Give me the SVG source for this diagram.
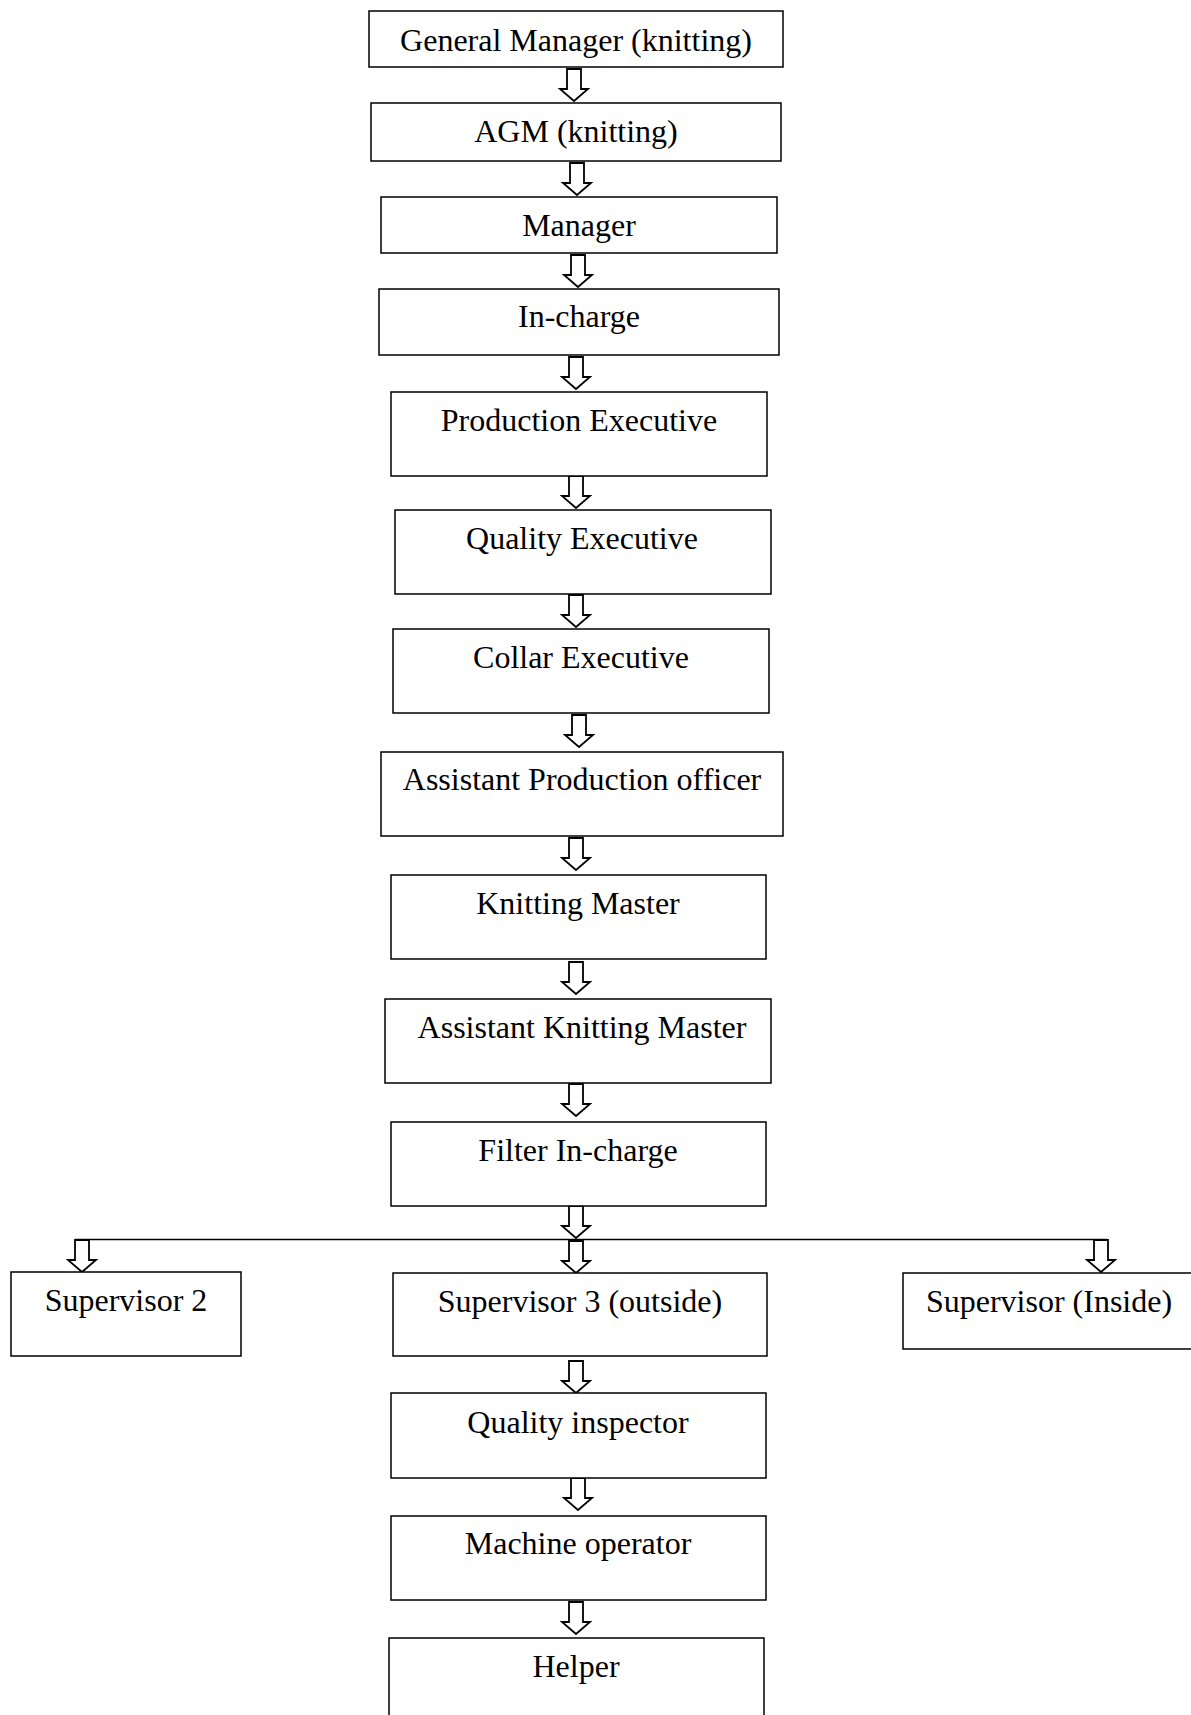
<svg xmlns="http://www.w3.org/2000/svg" xmlns:xlink="http://www.w3.org/1999/xlink" width="1191" height="1715" viewBox="0 0 1191 1715">
<style>
  .box { fill: #ffffff; stroke: #000000; stroke-width: 1.5; }
  .lbl { font-family: "Liberation Serif", "Times New Roman", serif; font-size: 32px; fill: #000000; text-anchor: middle; }
  .arr { fill: #ffffff; stroke: #000000; stroke-width: 1.8; stroke-linejoin: miter; }
  .ln { fill: none; stroke: #000000; stroke-width: 1.5; }
</style>
<defs>
  <path id="darrow" d="M-7,0 L7,0 L7,20 L14,20 L0,32 L-14,20 L-7,20 Z"/>
</defs>
<rect width="1191" height="1715" fill="#ffffff"/>

<g id="connectors">
  <line class="ln" x1="75" y1="1239.5" x2="1107" y2="1239.5"/>
  <use xlink:href="#darrow" class="arr" transform="translate(574,69)"/>
  <use xlink:href="#darrow" class="arr" transform="translate(577,163)"/>
  <use xlink:href="#darrow" class="arr" transform="translate(578,255)"/>
  <use xlink:href="#darrow" class="arr" transform="translate(576,357)"/>
  <use xlink:href="#darrow" class="arr" transform="translate(576,476)"/>
  <use xlink:href="#darrow" class="arr" transform="translate(576,595)"/>
  <use xlink:href="#darrow" class="arr" transform="translate(579,715)"/>
  <use xlink:href="#darrow" class="arr" transform="translate(576,838)"/>
  <use xlink:href="#darrow" class="arr" transform="translate(576,962)"/>
  <use xlink:href="#darrow" class="arr" transform="translate(576,1084)"/>
  <use xlink:href="#darrow" class="arr" transform="translate(576,1206)"/>
  <use xlink:href="#darrow" class="arr" transform="translate(82,1240)"/>
  <use xlink:href="#darrow" class="arr" transform="translate(576,1241)"/>
  <use xlink:href="#darrow" class="arr" transform="translate(1101,1240)"/>
  <use xlink:href="#darrow" class="arr" transform="translate(576,1361)"/>
  <use xlink:href="#darrow" class="arr" transform="translate(578,1478)"/>
  <use xlink:href="#darrow" class="arr" transform="translate(576,1602)"/>
</g>

<g id="n-general-manager">
  <rect class="box" x="369" y="11" width="414" height="56"/>
  <text class="lbl" x="576" y="51">General Manager (knitting)</text>
</g>
<g id="n-agm">
  <rect class="box" x="371" y="103" width="410" height="58"/>
  <text class="lbl" x="576" y="142">AGM (knitting)</text>
</g>
<g id="n-manager">
  <rect class="box" x="381" y="197" width="396" height="56"/>
  <text class="lbl" x="579" y="236">Manager</text>
</g>
<g id="n-incharge">
  <rect class="box" x="379" y="289" width="400" height="66"/>
  <text class="lbl" x="579" y="327">In-charge</text>
</g>
<g id="n-production-executive">
  <rect class="box" x="391" y="392" width="376" height="84"/>
  <text class="lbl" x="579" y="431">Production Executive</text>
</g>
<g id="n-quality-executive">
  <rect class="box" x="395" y="510" width="376" height="84"/>
  <text class="lbl" x="582" y="549">Quality Executive</text>
</g>
<g id="n-collar-executive">
  <rect class="box" x="393" y="629" width="376" height="84"/>
  <text class="lbl" x="581" y="668">Collar Executive</text>
</g>
<g id="n-assistant-production-officer">
  <rect class="box" x="381" y="752" width="402" height="84"/>
  <text class="lbl" x="582" y="790">Assistant Production officer</text>
</g>
<g id="n-knitting-master">
  <rect class="box" x="391" y="875" width="375" height="84"/>
  <text class="lbl" x="578" y="914">Knitting Master</text>
</g>
<g id="n-assistant-knitting-master">
  <rect class="box" x="385" y="999" width="386" height="84"/>
  <text class="lbl" x="582" y="1038">Assistant Knitting Master</text>
</g>
<g id="n-filter-incharge">
  <rect class="box" x="391" y="1122" width="375" height="84"/>
  <text class="lbl" x="578" y="1161">Filter In-charge</text>
</g>
<g id="n-supervisor-2">
  <rect class="box" x="11" y="1272" width="230" height="84"/>
  <text class="lbl" x="126" y="1311">Supervisor 2</text>
</g>
<g id="n-supervisor-3">
  <rect class="box" x="393" y="1273" width="374" height="83"/>
  <text class="lbl" x="580" y="1312">Supervisor 3 (outside)</text>
</g>
<g id="n-supervisor-inside">
  <rect class="box" x="903" y="1273" width="300" height="76"/>
  <text class="lbl" x="1049" y="1312">Supervisor (Inside)</text>
</g>
<g id="n-quality-inspector">
  <rect class="box" x="391" y="1393" width="375" height="85"/>
  <text class="lbl" x="578" y="1433">Quality inspector</text>
</g>
<g id="n-machine-operator">
  <rect class="box" x="391" y="1516" width="375" height="84"/>
  <text class="lbl" x="578" y="1554">Machine operator</text>
</g>
<g id="n-helper">
  <rect class="box" x="389" y="1638" width="375" height="90"/>
  <text class="lbl" x="576" y="1677">Helper</text>
</g>
</svg>
